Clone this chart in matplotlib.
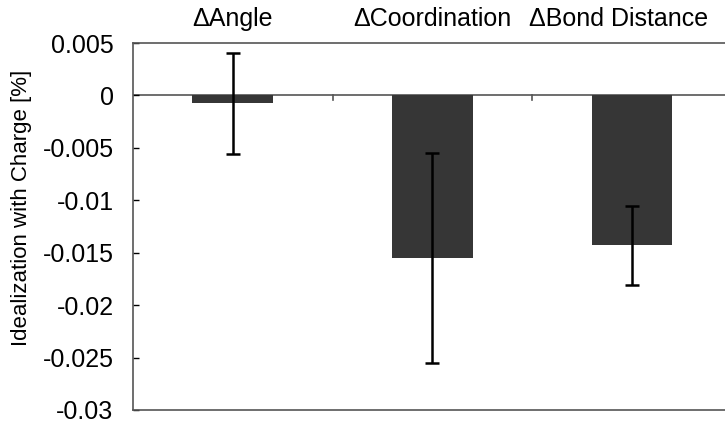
import matplotlib
matplotlib.use("Agg")
import matplotlib.pyplot as plt
import numpy as np

plt.rcParams['axes.unicode_minus'] = False
plt.rcParams['font.family'] = ['Liberation Sans', 'DejaVu Sans']

# data
categories = ["\u0394Angle", "\u0394Coordination", "\u0394Bond Distance"]
values = [-0.00075, -0.0155, -0.0143]
errors = [0.0048, 0.0100, 0.0038]
yticks = [0.005, 0, -0.005, -0.01, -0.015, -0.02, -0.025, -0.03]
ytick_labels = ["0.005", "0", "-0.005", "-0.01", "-0.015", "-0.02", "-0.025", "-0.03"]

fig = plt.figure(figsize=(7.25, 4.25), dpi=100)
ax = fig.add_axes([0.1834, 0.0353, 0.826, 0.8635])

x = np.arange(len(categories))
ax.bar(x, values, width=0.405, color="#363636", zorder=2)
ax.errorbar(x, values, yerr=errors, fmt="none", ecolor="black",
            elinewidth=1.8, capsize=5, capthick=1.8, zorder=3)

# zero line with small category separator ticks
ax.axhline(0, color="#555555", lw=1.2, zorder=1)
for xs in x[:-1] + 0.5:
    ax.plot([xs, xs], [0, -0.0004], color="#555555", lw=1.2, zorder=1)

ax.set_xlim(-0.5, 2.5)
ax.set_ylim(-0.03, 0.005)
ax.set_xticks([])
ax.set_yticks(yticks)
ax.set_yticklabels(ytick_labels, fontsize=18)
ax.tick_params(axis="y", direction="in", length=4, width=1, pad=14)

for side in ["left", "top", "bottom"]:
    ax.spines[side].set_color("#555555")
    ax.spines[side].set_linewidth(1.2)
ax.spines["right"].set_visible(False)

label_x = [0, 1, 1.935]
for lx, name in zip(label_x, categories):
    ax.text(lx, 1.065, name, transform=ax.get_xaxis_transform(),
            ha="center", va="center", fontsize=18)

fig.text(22 / 725, 0.51, "Idealization with Charge [%]", rotation=90,
         ha="center", va="center", fontsize=16)

fig.savefig("out.png", dpi=100)
